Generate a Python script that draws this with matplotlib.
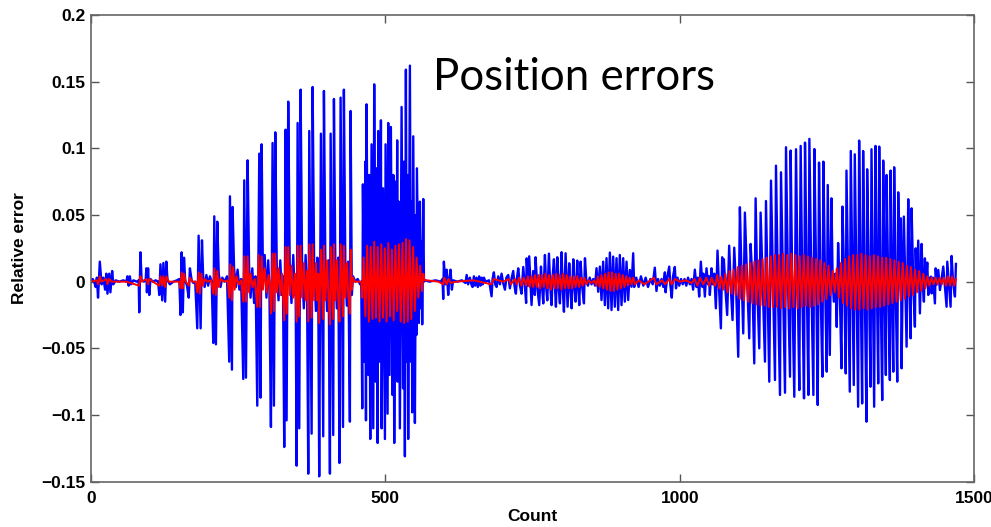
import numpy as np
import matplotlib
matplotlib.use("Agg")
import matplotlib.pyplot as plt

# ---- relative error samples (count, error) ----
# blue: raw estimate, red: filtered estimate

blue_quiet = [
    (0, 0.000), (3, 0.002), (6, -0.001), (8, -0.004), (10, 0.003), (12, -0.012),
    (15, 0.015), (18, -0.002), (21, 0.003), (24, -0.006), (26, 0.006), (28, -0.009),
    (31, 0.006), (33, -0.008), (36, 0.008), (38, -0.002), (42, 0.001), (48, 0.000),
    (55, 0.001), (60, 0.000), (62, 0.004), (64, -0.003), (66, 0.004), (68, -0.002),
    (72, 0.001), (78, 0.000), (81, 0.001), (82, -0.023), (84, 0.022), (86, 0.001),
    (90, 0.000), (93, 0.002), (94, 0.010), (95, -0.008), (97, 0.010), (99, -0.010),
    (101, 0.002), (105, 0.000), (110, 0.001), (114, 0.000), (116, -0.010), (118, 0.013),
    (121, -0.014), (123, 0.014), (126, -0.015), (128, 0.015), (130, 0.001), (134, -0.002),
    (140, 0.000), (146, 0.001), (150, 0.002), (152, -0.025), (154, 0.022), (156, -0.023),
    (158, 0.018), (160, 0.001), (163, -0.003), (166, -0.012), (168, 0.010), (171, 0.001),
    (174, -0.001), (177, 0.000),
]

blue_rise = [
    (180.5, -0.035), (182.8, 0.0345), (186.2, -0.035), (188.5, 0.031),
    (190.5, 0.004), (193, -0.004), (196, 0.005), (199, -0.003), (202, 0.004), (205, 0.000),
    (207.7, -0.046), (209.4, 0.049), (212.2, -0.047), (214.5, 0.045),
    (217, 0.006), (220, -0.004), (223, 0.003), (227, 0.000), (231, 0.004),
    (234.8, -0.060), (236.0, 0.064), (239.4, -0.066), (240.5, 0.056),
    (243, 0.010), (246, -0.004), (249, 0.009), (252, -0.006), (255, 0.002),
    (258.6, -0.073), (260.3, 0.076), (263.2, -0.072), (266.0, 0.091),
    (268.5, 0.012), (271, -0.012), (274, 0.010), (277, -0.016), (279.5, 0.004),
    (282.4, -0.093), (285.8, 0.096), (288.0, -0.087), (289.8, 0.103),
    (292, 0.006), (295, 0.020), (298, -0.012), (301, 0.016), (303, -0.004),
    (305.6, -0.109), (308.4, 0.104), (310.7, -0.093), (313.0, 0.112),
    (315.5, 0.012), (318.5, -0.014), (321.5, 0.016), (324, -0.010), (326, 0.004),
    (328.2, -0.124), (330.5, 0.114), (332.2, -0.104), (335.0, 0.135),
    (337.5, 0.014), (340.5, -0.016), (343.5, 0.020), (346, -0.010), (347.5, 0.004),
    (349.2, -0.138), (350.9, 0.119), (353.7, -0.110), (356.0, 0.144),
    (358.5, 0.012), (361.5, -0.020), (364.5, 0.020), (367, -0.008),
    (369.0, -0.144), (370.7, 0.113), (374.7, -0.114), (376.4, 0.146),
    (379, 0.012), (382, -0.022), (384.5, 0.018), (386, -0.004),
    (387.6, -0.146), (390.5, 0.111), (394.4, -0.116), (395.6, 0.143),
    (398, 0.014), (401, -0.022), (403.5, 0.016),
    (405.8, -0.144), (407.0, 0.111), (411.4, -0.115), (412.6, 0.137),
    (415, 0.012), (417.5, -0.020), (420, 0.018),
    (422.0, -0.136), (423.9, 0.138), (428.0, -0.109), (429.5, 0.144),
    (432, 0.010), (434.5, -0.018), (437, 0.015),
    (439.7, -0.105), (440.9, 0.128), (443, -0.010), (445, 0.004), (449, 0.000),
    (453, 0.002), (457, -0.002), (459, 0.000),
]

blue_burst = [
    (460.7, -0.095), (461.8, 0.073), (464.3, -0.060), (465.8, 0.090), (467.0, -0.104),
    (468.0, 0.133), (471.0, -0.070), (472.5, 0.080), (474.3, -0.118), (476.5, 0.103),
    (479.4, -0.110), (481.0, 0.148), (483.5, -0.075), (485.0, 0.085), (486.8, -0.121),
    (487.8, 0.113), (490.5, -0.060), (492.4, 0.121), (493.6, -0.110), (496.0, 0.070),
    (499.2, -0.118), (500.3, 0.103), (503.7, -0.099), (504.8, 0.119), (507.0, -0.070),
    (509.3, 0.116), (512.0, -0.085), (513.5, 0.080), (515.0, -0.121), (517.5, 0.075),
    (519.0, -0.060), (520.0, 0.106), (520.7, -0.075), (522.5, 0.060), (524.6, -0.110),
    (527.5, 0.131), (530.0, -0.080), (531.5, 0.090), (533.1, -0.131), (534.8, 0.159),
    (536.5, -0.060), (537.5, 0.080), (538.7, -0.118), (541.6, 0.162), (543.5, -0.060),
    (544.5, 0.060), (545.5, -0.098), (547.3, 0.109), (550.1, -0.106), (551.8, 0.050),
    (552.6, -0.040), (553.5, 0.085), (556.9, -0.031), (558.6, 0.060), (560.5, -0.020),
    (561.5, 0.030), (562.5, -0.032), (564.3, 0.062), (565.5, 0.000),
]

blue_middle = [
    (567, 0.001), (575, 0.000), (585, 0.001), (594, 0.000), (597, 0.002), (598.2, -0.013),
    (599.3, 0.015), (602, -0.002), (603.9, 0.009), (606.7, -0.010), (608.5, 0.002),
    (610.6, 0.009), (612.9, -0.006), (615, 0.001), (622, 0.000), (630, 0.001), (636, -0.001),
    (638, 0.005), (640.5, -0.002), (643.4, 0.003), (646, -0.002), (648, -0.004), (650.3, 0.004),
    (652.5, -0.003), (654.8, 0.003), (657, -0.004), (659.3, 0.004), (661.5, -0.003),
    (663.3, 0.003), (665.5, -0.002), (667.3, 0.003), (670, 0.000), (676, 0.001),
    (680.3, -0.011), (682, 0.002), (684.2, 0.007), (686.5, -0.002), (688.8, -0.004),
    (691.6, 0.004), (694.5, -0.002), (697.3, 0.006), (700, -0.001), (703, -0.006),
    (705.5, 0.003), (708.6, 0.005), (711.4, -0.005), (714, 0.002), (717.1, 0.008),
    (719.5, -0.004), (721.6, -0.009), (723.5, 0.003), (725.6, 0.010), (728.5, -0.003),
    (731.2, -0.009), (734.1, 0.011), (737, -0.004), (739.0, -0.016), (739.9, 0.0175),
    (742.5, -0.003), (744.2, 0.019),
    (748.2, -0.0175), (751, 0.008), (753.8, -0.010), (755.0, 0.0183), (758, -0.004),
    (761.2, -0.0176), (764.2, 0.0113), (766, -0.003), (768.1, -0.0163), (770.9, 0.020),
    (773, -0.004), (774.9, -0.014), (777.7, 0.021), (780, -0.004), (782.2, -0.0176),
    (784, 0.004), (786.2, 0.0168), (788, -0.004), (789.6, -0.0188), (791.9, 0.0183),
    (794, -0.003), (796.4, -0.0163), (799.2, 0.0221), (801, -0.004), (803.2, -0.0226),
    (806, 0.0213), (808, -0.003), (809.4, -0.0188), (812.2, 0.0138), (814, -0.003),
    (816.2, -0.020), (819.1, 0.0168), (821, -0.003), (823.0, -0.015), (825.8, 0.0158),
    (827.5, -0.003), (829.2, -0.0176), (831.5, 0.015), (834, -0.003), (837.2, -0.0163),
    (838.9, 0.0176), (841, 0.002), (844, -0.003), (847, 0.003), (850, -0.002), (853, 0.002),
    (856, -0.003),
    (858.5, 0.0101), (861.4, -0.0076), (864.2, 0.0113), (867.0, -0.0138), (869.8, 0.015),
    (872.7, -0.0176), (875.5, 0.0176), (878.3, -0.020), (881.2, 0.0218), (884.0, -0.0213),
    (886.8, 0.0188), (889.6, -0.0188), (892.5, 0.0176), (895.3, -0.0213), (898.1, 0.020),
    (901.0, -0.0176), (903.8, 0.0176), (906.6, -0.015), (909.5, 0.015), (912.3, -0.0138),
    (915.1, 0.0088), (918.0, -0.0038), (920.8, 0.0213), (922.5, -0.004),
    (926, 0.003), (930, -0.004), (934, 0.004), (938, -0.003), (942, 0.003), (946, -0.004),
    (950, 0.002), (954, -0.002), (957.5, 0.0105), (960.3, -0.007), (963, 0.002),
    (966, -0.003), (969, 0.002), (972, -0.004), (974.6, 0.007), (975.8, -0.008),
    (978.5, 0.003), (982.0, 0.0113), (984, -0.003), (986.3, -0.012), (988.5, 0.004),
    (991.5, 0.011), (993.5, -0.005), (996, 0.003), (999, -0.003), (1002, 0.002),
    (1005, -0.002), (1008, 0.002), (1011, -0.003), (1014, 0.003), (1017, -0.002),
    (1020, 0.002), (1022.6, -0.006), (1025.5, 0.009), (1028.3, -0.004), (1030.5, 0.003),
    (1032.9, -0.0112), (1035.7, 0.015), (1038.5, -0.004), (1040, 0.006), (1042.5, -0.0112),
    (1045.3, 0.010), (1048, -0.002), (1049.5, 0.004), (1051, -0.010), (1053.8, 0.010),
    (1056, -0.002), (1058.5, 0.006),
]

blue_late = [
    (1061.2, -0.020), (1064.0, 0.0233), (1066.5, -0.004), (1069.7, -0.035), (1071.9, 0.0183),
    (1073.3, -0.004), (1074.8, 0.0168), (1077.5, -0.006), (1080.4, -0.025), (1083.8, 0.027),
    (1086.5, -0.004), (1089.5, -0.0288), (1092.4, 0.0255), (1095.5, -0.004), (1099.2, -0.0563),
    (1102.0, 0.0558), (1104.5, 0.010), (1107.7, -0.0388), (1110.5, 0.0518), (1114, 0.005),
    (1117.9, -0.0425), (1120.2, 0.0283), (1123, 0.004), (1126.4, -0.0613), (1128.7, 0.0625),
    (1131.5, -0.004), (1134.9, -0.050), (1137.2, 0.0518), (1140.5, 0.002), (1144.6, -0.060),
    (1146.3, 0.0605), (1149, -0.004), (1151.9, -0.075), (1154.8, 0.0758), (1158, 0.004),
    (1161.6, -0.0738), (1163.3, 0.087), (1166.5, -0.004), (1170.1, -0.085), (1171.8, 0.082),
    (1175, 0.004), (1178.6, -0.0833), (1180.3, 0.1008), (1183.5, 0.004), (1187.1, -0.0713),
    (1188.2, 0.0983), (1191, -0.004), (1194.4, -0.0863), (1197.3, 0.0993), (1200, 0.004),
    (1202.9, -0.0813), (1205.2, 0.1018), (1208, -0.004), (1210.9, -0.0875), (1212.6, 0.1043),
    (1215.5, 0.004), (1218.3, -0.085), (1220.0, 0.1071), (1223.5, -0.004), (1226.8, -0.085),
    (1228.5, 0.0995), (1231.5, 0.004), (1234.2, -0.0925), (1236.4, 0.0893), (1239, -0.004),
    (1242.1, -0.0713), (1243.8, 0.090), (1246.5, 0.004), (1249.5, -0.0675), (1251.2, 0.0725),
    (1253, 0.004), (1254.7, -0.055), (1257.5, 0.0625), (1259.5, 0.002), (1261.5, -0.015),
    (1264, 0.006), (1266.5, -0.034), (1268.8, 0.029), (1271.5, -0.004), (1274.5, -0.065),
    (1276.2, 0.0563), (1279, 0.004), (1281.8, -0.0688), (1283.0, 0.0833), (1286, -0.004),
    (1288.6, -0.0825), (1290.3, 0.098), (1293, 0.004), (1295.4, -0.0775), (1297.1, 0.0955),
    (1300, -0.004), (1302.8, -0.0938), (1304.5, 0.1058), (1307, 0.004), (1309.6, -0.0913),
    (1311.3, 0.098), (1314, -0.004), (1317.0, -0.105), (1318.1, 0.0843), (1321, 0.004),
    (1323.8, -0.0788), (1325.5, 0.0993), (1328, -0.004), (1330.0, -0.0938), (1332.3, 0.1018),
    (1334.5, 0.004), (1336.9, -0.0763), (1338.6, 0.1013), (1341, -0.004), (1343.7, -0.0888),
    (1345.4, 0.0908), (1347.5, 0.004), (1349.9, -0.070), (1351.1, 0.080), (1354, -0.004),
    (1356.7, -0.0738), (1357.9, 0.0833), (1360, 0.004), (1362.5, -0.0675), (1364.0, 0.0858),
    (1366.5, -0.004), (1369.2, -0.075), (1370.9, 0.067), (1373, 0.002), (1375.4, 0.0475),
    (1376.6, -0.065), (1378.5, 0.004), (1380.5, 0.0488), (1383, -0.004), (1385.1, -0.0488),
    (1387.9, 0.0618), (1390, 0.002), (1391.9, -0.0425), (1393.6, 0.055), (1396.5, -0.002),
    (1399.2, -0.0338), (1400.5, 0.025), (1402.5, -0.004), (1404.9, 0.0308), (1407.7, -0.0238),
    (1410.6, 0.0283), (1412.5, 0.000), (1414.5, -0.015), (1416.2, 0.0175), (1418, -0.002),
    (1420.2, 0.0143), (1421.9, -0.010), (1424, 0.002), (1426.4, 0.0038), (1427.6, -0.0088),
    (1430, 0.003), (1433.2, -0.0163), (1434.5, 0.010), (1436.5, -0.002), (1438.9, 0.0088),
    (1441.7, -0.0063), (1444.5, 0.002), (1447.4, 0.0113), (1450, -0.003), (1453.0, -0.0188),
    (1454.2, 0.015), (1457, -0.002), (1459.8, -0.0188), (1461.5, 0.0193), (1464, 0.000),
    (1467.2, -0.0112), (1468.9, 0.0133),
]

red_quiet = [
    (0, 0.000), (10, 0.001), (12, -0.002), (15, 0.004), (18, 0.000), (26, 0.002),
    (28, -0.002), (31, 0.002), (35, 0.000), (60, 0.000), (82, -0.003), (84, 0.004),
    (86, 0.000), (94, 0.002), (97, -0.002), (99, 0.002), (105, 0.000), (116, -0.003),
    (118, 0.004), (121, -0.003), (123, 0.004), (126, -0.004), (128, 0.004), (132, 0.000),
    (150, 0.000), (152, -0.005), (154, 0.007), (156, -0.005), (158, 0.006), (161, 0.000),
    (166, -0.003), (168, 0.003), (172, 0.000), (178, 0.000),
]

red_rise = [
    (180.5, -0.008), (182.8, 0.007), (185, -0.009), (187.5, 0.006), (190, -0.003),
    (193, 0.002), (198, 0.000), (204, 0.001),
    (207.7, -0.009), (209.4, 0.010), (212.2, -0.010), (214.5, 0.008), (217, -0.004),
    (220, 0.002), (226, 0.000), (232, 0.001),
    (234.8, -0.012), (236.5, 0.013), (239.4, -0.014), (241.5, 0.011), (244, -0.006),
    (247, 0.004), (251, -0.002), (255, 0.001),
    (258.6, -0.015), (260.3, 0.019), (263.2, -0.015), (266, 0.019), (268.5, -0.008),
    (271, 0.006), (274.5, -0.004), (278, 0.002),
    (282.4, -0.019), (284.5, 0.020), (287, -0.019), (289.8, 0.019), (292, -0.006),
    (295, 0.010), (298, -0.008), (301.5, 0.005), (303.5, -0.002),
    (305.6, -0.024), (308.4, 0.021), (310.7, -0.022), (313, 0.021), (315.5, -0.008),
    (318.5, 0.010), (321.5, -0.010), (324.5, 0.006),
    (328.2, -0.029), (330.5, 0.026), (332.5, -0.024), (335, 0.026), (337.5, -0.010),
    (340.5, 0.012), (343.5, -0.012), (346.5, 0.006),
    (349.2, -0.030), (351, 0.027), (353.7, -0.026), (356, 0.027), (358.5, -0.012),
    (361.5, 0.014), (364.5, -0.014), (367, 0.008),
    (369, -0.030), (371, 0.028), (374.7, -0.027), (376.4, 0.028), (379, -0.014),
    (382, 0.014), (384.5, -0.014), (386, 0.006),
    (387.6, -0.031), (390.5, 0.024), (394.4, -0.028), (395.6, 0.027), (398, -0.014),
    (401, 0.016), (403.5, -0.014),
    (405.8, -0.032), (407.5, 0.026), (411.4, -0.028), (412.6, 0.028), (415, -0.014),
    (417.5, 0.016), (420, -0.014),
    (422, -0.030), (424, 0.028), (428, -0.026), (429.5, 0.027), (432, -0.012),
    (434.5, 0.014), (437, -0.010),
    (439.7, -0.024), (441, 0.024), (443, -0.006), (445, 0.003), (448, 0.000), (459, 0.000),
]

red_burst = [
    (460.7, -0.012), (463, 0.018), (466, -0.026), (469, 0.027), (472, -0.030), (475, 0.026),
    (478, -0.028), (481, 0.030), (484, -0.027), (487, 0.026), (490, -0.030), (493, 0.028),
    (496, -0.027), (499, 0.025), (502, -0.030), (505, 0.029), (508, -0.026), (511, 0.024),
    (514, -0.029), (517, 0.027), (520, -0.022), (523, 0.028), (526, -0.030), (529, 0.029),
    (532, -0.031), (535, 0.032), (538, -0.030), (541, 0.031), (544, -0.028), (547, 0.026),
    (550, -0.022), (553, 0.018), (556, -0.012), (559, 0.012), (562, -0.007), (564.5, 0.006),
    (566, 0.001),
]

red_middle = [
    (570, 0.001), (590, 0.000), (598, -0.002), (600, 0.003), (604, -0.002), (607, 0.002),
    (611, -0.001), (620, 0.000), (650, 0.001), (680, -0.002), (684, 0.002), (700, 0.000),
    (710, 0.002), (713, -0.002), (720, 0.002), (723, -0.002), (727, 0.003), (731, -0.003),
    (735, 0.003), (739, -0.003), (742, 0.004),
    (745, -0.004), (748, 0.004), (751, -0.004), (754, 0.005), (757, -0.004), (760, 0.005),
    (763, -0.005), (766, 0.005), (769, -0.004), (772, 0.006), (775, -0.005), (778, 0.005),
    (781, -0.006), (784, 0.005), (787, -0.005), (790, 0.006), (793, -0.005), (796, 0.005),
    (799, -0.006), (802, 0.006), (805, -0.005), (808, 0.005), (811, -0.005), (814, 0.004),
    (817, -0.005), (820, 0.004), (823, -0.004), (826, 0.004), (829, -0.004), (832, 0.003),
    (835, -0.003), (838, 0.003), (841, -0.002), (845, 0.001), (850, -0.001), (855, 0.001),
    (858, -0.003), (861, 0.004), (864, -0.004), (867, 0.005), (870, -0.005), (873, 0.006),
    (876, -0.006), (879, 0.007), (882, -0.007), (885, 0.007), (888, -0.007), (891, 0.006),
    (894, -0.006), (897, 0.006), (900, -0.005), (903, 0.005), (906, -0.004), (909, 0.004),
    (912, -0.003), (915, 0.003), (918, -0.002), (921, 0.003), (924, -0.002),
    (930, 0.001), (940, -0.002), (950, 0.001), (956, 0.003), (960, -0.002), (970, 0.001),
    (975, -0.002), (982, 0.002), (986, -0.002), (992, 0.002), (1000, 0.000), (1010, 0.001),
    (1020, -0.001), (1025, 0.002), (1030, -0.003), (1034, 0.003), (1040, -0.002),
    (1045, 0.003), (1050, -0.003), (1054, 0.003), (1058, -0.002),
]

red_late = [
    (1060, -0.003), (1063.5, 0.005), (1067, -0.005), (1070.5, 0.004), (1074, -0.006),
    (1077.5, 0.006), (1081, -0.008), (1084.5, 0.008), (1088, -0.009), (1091.5, 0.009),
    (1095, -0.010), (1098.5, 0.011), (1102, -0.013), (1105.5, 0.012), (1109, -0.014),
    (1112.5, 0.013), (1116, -0.015), (1119.5, 0.014), (1123, -0.016), (1126.5, 0.015),
    (1130, -0.017), (1133.5, 0.016), (1137, -0.018), (1140.5, 0.017), (1144, -0.018),
    (1147.5, 0.018), (1151, -0.019), (1154.5, 0.019), (1158, -0.019), (1161.5, 0.020),
    (1165, -0.019), (1168.5, 0.020), (1172, -0.020), (1175.5, 0.021), (1179, -0.019),
    (1182.5, 0.020), (1186, -0.020), (1189.5, 0.021), (1193, -0.019), (1196.5, 0.020),
    (1200, -0.020), (1203.5, 0.019), (1207, -0.019), (1210.5, 0.020), (1214, -0.018),
    (1217.5, 0.019), (1221, -0.019), (1224.5, 0.018), (1228, -0.018), (1231.5, 0.017),
    (1235, -0.017), (1238.5, 0.016), (1242, -0.015), (1245.5, 0.014), (1249, -0.013),
    (1252.5, 0.012), (1256, -0.010), (1259.5, 0.008), (1263, -0.008), (1266.5, 0.010),
    (1270, -0.012), (1273.5, 0.014), (1277, -0.016), (1280.5, 0.017), (1284, -0.018),
    (1287.5, 0.019), (1291, -0.020), (1294.5, 0.020), (1298, -0.021), (1301.5, 0.020),
    (1305, -0.021), (1308.5, 0.021), (1312, -0.020), (1315.5, 0.020), (1319, -0.021),
    (1322.5, 0.019), (1326, -0.020), (1329.5, 0.020), (1333, -0.019), (1336.5, 0.019),
    (1340, -0.019), (1343.5, 0.018), (1347, -0.018), (1350.5, 0.018), (1354, -0.017),
    (1357.5, 0.017), (1361, -0.016), (1364.5, 0.016), (1368, -0.015), (1371.5, 0.015),
    (1375, -0.014), (1378.5, 0.014), (1382, -0.013), (1385.5, 0.012), (1389, -0.011),
    (1392.5, 0.011), (1396, -0.010), (1399.5, 0.009), (1403, -0.008), (1406.5, 0.008),
    (1410, -0.007), (1413.5, 0.006), (1417, -0.005), (1420.5, 0.004), (1424, -0.003),
    (1427.5, 0.003), (1431, -0.002), (1434.5, 0.003), (1438, -0.002), (1441.5, 0.003),
    (1445, -0.002), (1448.5, 0.003), (1452, -0.003), (1455.5, 0.004), (1459, -0.003),
    (1462.5, 0.004), (1466, -0.003), (1469, 0.002),
]

x_ticks = [0, 500, 1000, 1500]
y_ticks = [-0.15, -0.1, -0.05, 0, 0.05, 0.1, 0.15, 0.2]
y_tick_labels = ["\u22120.15", "\u22120.1", "\u22120.05", "0", "0.05", "0.1", "0.15", "0.2"]

blue_count, blue_err = np.array(blue_quiet + blue_rise + blue_burst + blue_middle + blue_late).T
red_count, red_err = np.array(red_quiet + red_rise + red_burst + red_middle + red_late).T

fig = plt.figure(figsize=(9.91, 5.27), dpi=100)
ax = fig.add_axes([0.0918, 0.086, 0.8913, 0.8856])

ax.plot(blue_count, blue_err, color="#0000ff", lw=1.7)
ax.plot(red_count, red_err, color="#ff0000", lw=1.4)

ax.set_xlim(0, 1500)
ax.set_ylim(-0.15, 0.2)
ax.set_xticks(x_ticks)
ax.set_xticklabels([str(t) for t in x_ticks])
ax.set_yticks(y_ticks)
ax.set_yticklabels(y_tick_labels)

tick_font = dict(family="Liberation Sans", weight="bold", size=12.5)
for lab in ax.get_xticklabels() + ax.get_yticklabels():
    lab.set_fontfamily("Liberation Sans")
    lab.set_fontweight("bold")
    lab.set_fontsize(12.5)

ax.tick_params(axis="both", direction="in", length=6, width=1, color="#555555",
               top=True, right=True)
ax.tick_params(axis="x", pad=7)
ax.tick_params(axis="y", pad=4)
for s in ax.spines.values():
    s.set_color("#666666")
    s.set_linewidth(1.2)

ax.set_xlabel("Count", fontdict=tick_font, labelpad=2)
ax.set_ylabel("Relative error", fontdict=tick_font, labelpad=10)

ax.text(0.387, 0.865, "Position errors", transform=ax.transAxes,
        ha="left", va="center", fontsize=31.5, family="Lato", color="black")

fig.savefig("out.png", dpi=100)
